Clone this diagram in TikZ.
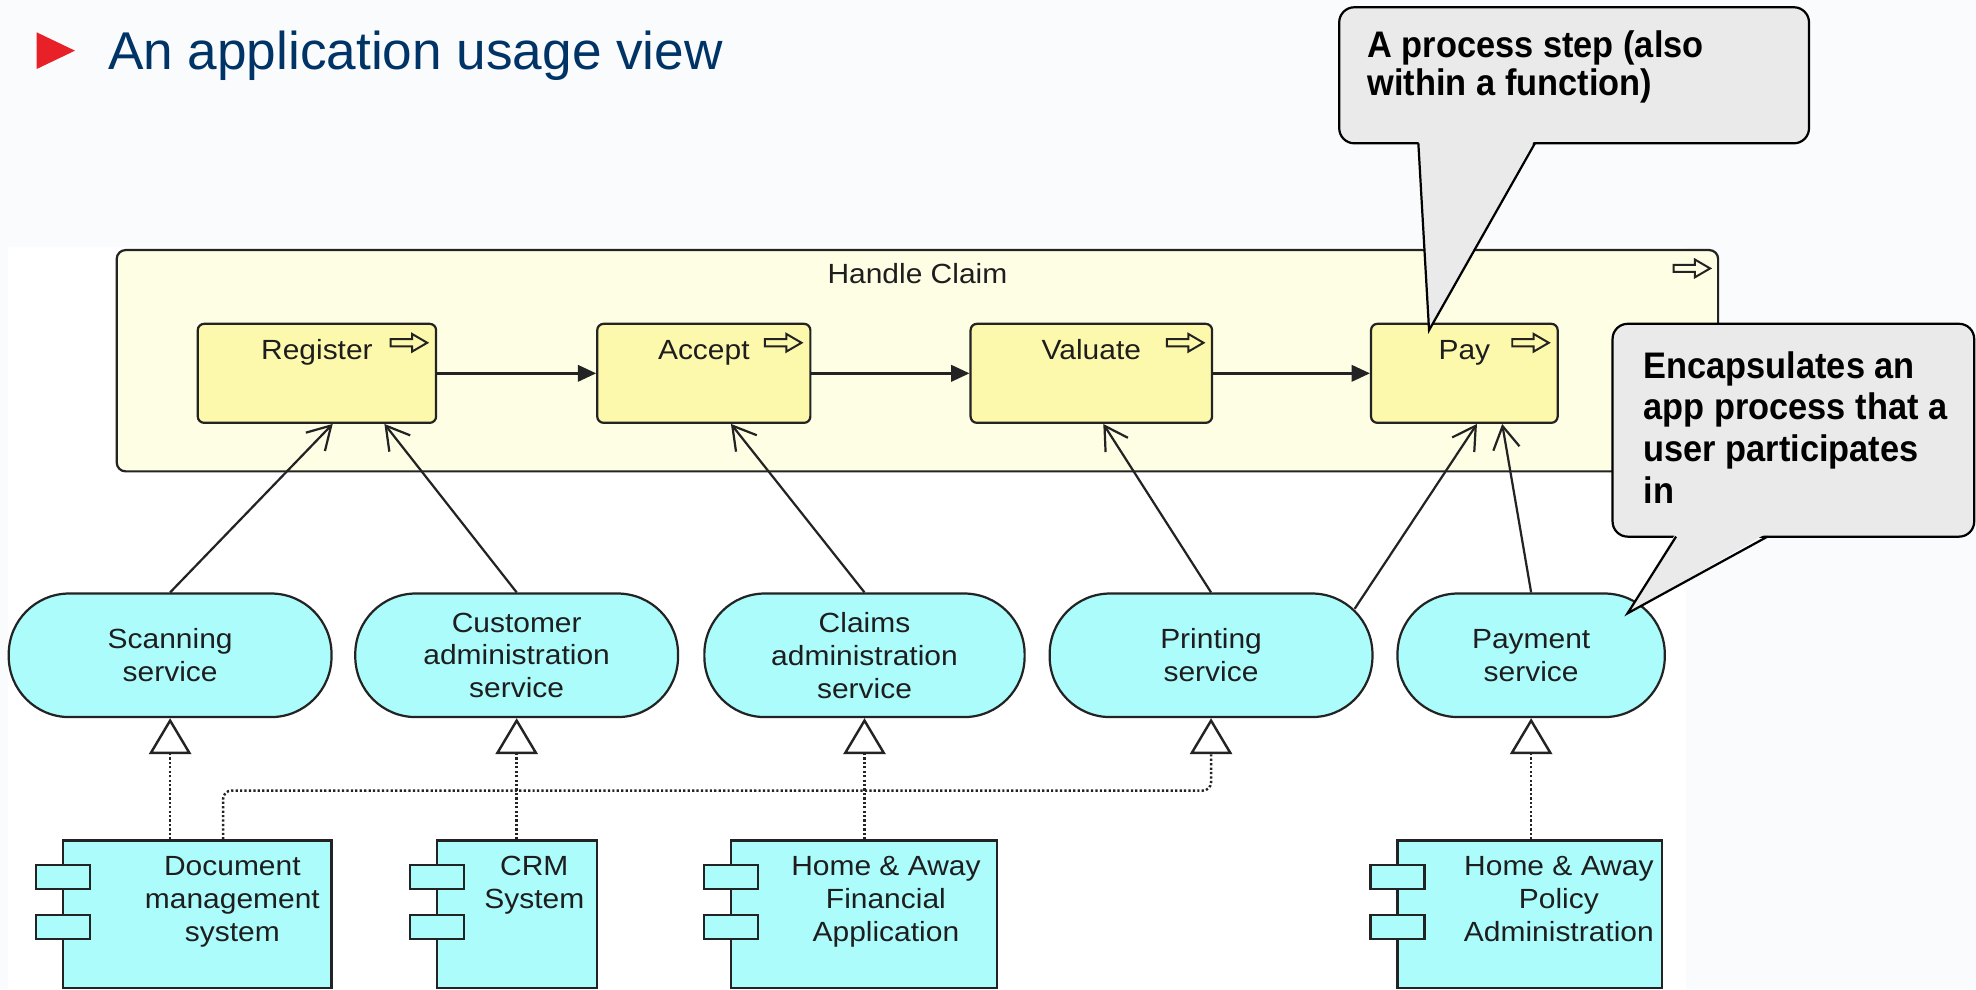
\documentclass[tikz,border=0pt]{standalone}
\usepackage{fontspec}
\setmainfont{Liberation Sans}
\newfontfamily\diagfont[FakeStretch=1.08]{Liberation Sans}
\newfontfamily\callfont[FakeStretch=0.93]{Liberation Sans}
\usetikzlibrary{arrows.meta}
\definecolor{bgc}{RGB}{250,251,253}
\definecolor{titleblue}{RGB}{0,51,102}
\definecolor{tred}{RGB}{232,32,40}
\definecolor{contfill}{RGB}{254,254,228}
\definecolor{procfill}{RGB}{253,249,172}
\definecolor{svcfill}{RGB}{172,252,252}
\definecolor{callfill}{RGB}{234,234,234}
\definecolor{linec}{RGB}{35,35,35}
\definecolor{txtc}{RGB}{30,30,30}
\newcommand{\diagtext}{\diagfont\fontsize{6.26pt}{7.4pt}\selectfont}
\newcommand{\calltext}{\callfont\bfseries\fontsize{8.34pt}{9.39pt}\selectfont}
\newcommand{\calltexta}{\callfont\bfseries\fontsize{8.34pt}{8.7pt}\selectfont}
\begin{document}
\begin{tikzpicture}[x=0.01cm,y=-0.01cm,
  shapeline/.style={draw=linec,line width=0.5pt},
  container/.style={shapeline,fill=contfill,rounded corners=0.07cm,inner sep=0},
  proc/.style={shapeline,fill=procfill,rounded corners=0.05cm,minimum height=0.785cm,inner sep=0},
  svc/.style={shapeline,fill=svcfill,rounded corners=0.48cm,minimum height=0.98cm,inner sep=0,align=center,font=\diagtext,text=txtc},
  comp/.style={shapeline,fill=svcfill,inner sep=0},
  tab/.style={shapeline,fill=svcfill,minimum width=0.428cm,minimum height=0.193cm,inner sep=0},
  dlabel/.style={font=\diagtext,text=txtc,inner sep=0,align=center},
  cbox/.style={draw=black,line width=0.5pt,fill=callfill,rounded corners=0.12cm,inner sep=0},
  cline/.style={draw=black,line width=0.5pt},
  ctext/.style={font=\calltext,text=black,inner sep=0,align=left},
  trig/.style={draw=linec,line width=0.55pt,-{Triangle[length=1.45mm,width=1.3mm]}},
  usedby/.style={draw=linec,line width=0.5pt,-{Straight Barb[length=1.8mm,width=2.1mm]}},
  realz/.style={draw=linec,line width=0.55pt,dash pattern=on 0.5pt off 0.5pt,-{Triangle[length=2.85mm,width=3.35mm,fill=white]}},
  iconline/.style={draw=linec,line width=0.45pt},
  procicon/.pic={\draw[iconline] (0,-2.8) -- (17,-2.8) -- (17,-7) -- (29,0) -- (17,7) -- (17,2.8) -- (0,2.8) -- cycle;}
]
\useasboundingbox (0,0) rectangle (1568,785);
\clip (0,0) rectangle (1568,785);
\fill[bgc] (0,0) rectangle (1568,785);
\fill[white] (6,196) rectangle (1338,785);

% title
\fill[tred] (29,25.6) -- (59.5,40.2) -- (29,54.8) -- cycle;
\node[anchor=base west,inner sep=0,text=titleblue,font=\fontsize{12pt}{14pt}\selectfont] (title) at (85,54.8) {An application usage view};

% container
\node[container,minimum width=12.70cm,minimum height=1.755cm] (hc) at (728,286.25) {};
\node[dlabel,anchor=base] (hcl) at (728,225) {Handle Claim};
\pic at (1328,213) {procicon};

% processes
\node[proc,minimum width=1.89cm] (reg) at (251.5,296.25) {};
\node[proc,minimum width=1.69cm] (acc) at (558.5,296.25) {};
\node[proc,minimum width=1.915cm] (val) at (866,296.25) {};
\node[proc,minimum width=1.48cm] (pay) at (1162,296.25) {};
\node[dlabel,anchor=base] (regl) at (251.5,285) {Register};
\node[dlabel,anchor=base] (accl) at (558.5,285) {Accept};
\node[dlabel,anchor=base] (vall) at (866,285) {Valuate};
\node[dlabel,anchor=base] (payl) at (1162,285) {Pay};
\pic at (310,272) {procicon};
\pic at (607,272) {procicon};
\pic at (926,272) {procicon};
\pic at (1200,272) {procicon};

% services
\node[svc,minimum width=2.56cm] (scan) at (135,520) {Scanning\\service};
\node[svc,minimum width=2.56cm] (cust) at (410,520) {Customer\\administration\\service};
\node[svc,minimum width=2.54cm] (claims) at (686,520) {Claims\\administration\\service};
\node[svc,minimum width=2.56cm] (print) at (961,520) {Printing\\service};
\node[svc,minimum width=2.12cm] (paysv) at (1215,520) {Payment\\service};

% components
\node[comp,minimum width=2.13cm,minimum height=1.17cm] (doc) at (156.5,725.5) {};
\node[comp,minimum width=1.27cm,minimum height=1.17cm] (crm) at (410.5,725.5) {};
\node[comp,minimum width=2.11cm,minimum height=1.17cm] (fin) at (685.5,725.5) {};
\node[comp,minimum width=2.10cm,minimum height=1.17cm] (pol) at (1214,725.5) {};
\node[tab] (doct1) at (50,696) {};
\node[tab] (doct2) at (50,735.7) {};
\node[tab] (crmt1) at (346.5,696) {};
\node[tab] (crmt2) at (346.5,735.7) {};
\node[tab] (fint1) at (580,696) {};
\node[tab] (fint2) at (580,735.7) {};
\node[tab] (polt1) at (1109,696) {};
\node[tab] (polt2) at (1109,735.7) {};
\node[dlabel] (docl) at (184.4,715.5) {Document\\management\\system};
\node[dlabel] (crml) at (424,702.5) {CRM\\System};
\node[dlabel] (finl) at (703,715.5) {Home \& Away\\Financial\\Application};
\node[dlabel] (poll) at (1237,713.5) {Home \& Away\\Policy\\Administration};

% triggering
\draw[trig] (reg.east) -- (acc.west);
\draw[trig] (acc.east) -- (val.west);
\draw[trig] (val.east) -- (pay.west);

% used by
\draw[usedby] (scan.north) -- ([xshift=0.125cm]reg.south);
\draw[usedby] (cust.north) -- ([xshift=0.535cm]reg.south);
\draw[usedby] (claims.north) -- ([xshift=0.215cm]acc.south);
\draw[usedby] (print.north) -- ([xshift=0.095cm]val.south);
\draw[usedby] ([xshift=-0.15cm,yshift=-0.13cm]print.north east) -- ([xshift=0.1cm]pay.south);
\draw[usedby] (paysv.north) -- ([xshift=0.3cm]pay.south);

% realization
\draw[realz] (scan.south |- doc.north) -- (scan.south);
\draw[realz] (cust.south |- crm.north) -- (cust.south);
\draw[realz] (claims.south |- fin.north) -- (claims.south);
\draw[realz] (paysv.south |- pol.north) -- (paysv.south);
\coordinate (pj) at (961,627.4);
\draw[realz,rounded corners=0.066cm] ([xshift=0.205cm]doc.north) |- (pj) -- (print.south);

% callout 1
\node[cbox,minimum width=3.726cm,minimum height=1.079cm] (c1) at (1249.1,59.75) {};
\coordinate (c1a) at (1125.5,113.7);
\coordinate (c1b) at (1218,113.7);
\coordinate (c1tip) at (1134,262);
\fill[callfill] ([yshift=0.03cm]c1a) -- (c1tip) -- ([yshift=0.03cm]c1b) -- cycle;
\draw[cline] (c1a) -- (c1tip) -- (c1b);
\node[ctext,font=\calltexta,anchor=west] (c1t) at (1084.5,53) {A process step (also\\within a function)};

% callout 2
\node[cbox,minimum width=2.868cm,minimum height=1.688cm] (c2) at (1423.1,341.4) {};
\coordinate (c2a) at (1330,425.8);
\coordinate (c2b) at (1402.6,425.8);
\coordinate (c2tip) at (1291.5,486.7);
\fill[callfill] ([yshift=0.03cm]c2a) -- (c2tip) -- ([yshift=0.03cm]c2b) -- cycle;
\draw[cline] (c2a) -- (c2tip) -- (c2b);
\node[ctext,anchor=west] (c2t) at (1303.5,339) {Encapsulates an\\app process that a\\user participates\\in};
\end{tikzpicture}
\end{document}
